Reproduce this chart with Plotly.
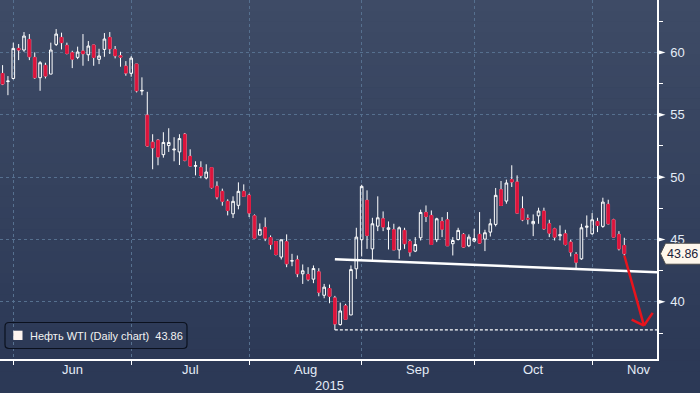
import plotly.graph_objects as go
import pandas as pd

# ---------------- data (WTI daily candles, 27 May - 9 Nov 2015) ----------------
open_ = [58.31, 57.66, 57.91, 60.32, 60.19, 61.04, 59.60, 57.97, 58.96, 58.26,
         60.64, 61.20, 60.56, 59.97, 59.60, 60.11, 59.81, 60.59, 59.44, 60.24,
         61.20, 60.24, 59.73, 58.90, 58.32, 59.06, 56.90, 54.97, 52.80, 52.96,
         51.80, 52.53, 52.18, 52.02, 53.44, 51.67, 50.87, 50.76, 49.93, 50.76,
         49.27, 48.86, 48.06, 47.06, 47.74, 48.86, 48.54, 46.90, 45.35, 45.97,
         45.16, 44.84, 43.59, 44.82, 43.27, 43.37, 42.25, 42.19, 41.82, 42.41,
         40.53, 41.07, 40.32, 38.18, 39.68, 38.95, 42.65, 44.98, 48.14, 44.25,
         46.07, 46.66, 45.81, 45.78, 44.17, 45.73, 44.84, 44.07, 45.14, 47.17,
         46.93, 44.98, 46.45, 46.58, 44.66, 45.00, 45.41, 44.50, 44.87, 45.41,
         45.03, 45.59, 46.21, 48.99, 48.08, 49.80, 49.61, 47.47, 46.70, 46.26,
         46.90, 47.28, 46.26, 45.86, 45.30, 45.46, 44.79, 43.80, 43.45, 45.98,
         45.46, 46.45, 46.05, 47.82, 46.58, 45.41, 44.52]
high = [58.98, 58.10, 60.78, 60.67, 61.63, 61.47, 60.00, 59.30, 59.17, 60.78,
        61.87, 61.58, 60.78, 60.13, 60.46, 61.47, 60.91, 60.59, 60.29, 61.55,
        61.63, 60.51, 60.05, 59.30, 59.70, 59.06, 58.00, 56.84, 53.44, 53.04,
        53.60, 53.92, 53.20, 53.44, 53.54, 52.23, 51.27, 51.27, 51.03, 50.76,
        49.66, 49.08, 48.22, 48.46, 49.58, 49.42, 48.67, 47.01, 46.29, 46.77,
        45.33, 44.84, 44.98, 45.41, 43.85, 43.72, 43.00, 42.78, 42.92, 42.70,
        41.44, 41.39, 40.48, 39.94, 39.84, 42.92, 45.94, 49.39, 48.94, 46.74,
        48.46, 47.25, 46.45, 46.26, 46.05, 45.94, 44.98, 45.19, 47.39, 47.73,
        47.33, 46.74, 46.79, 47.20, 45.19, 45.94, 45.51, 45.41, 45.86, 47.20,
        45.78, 46.66, 49.13, 49.69, 49.80, 50.95, 50.14, 48.46, 47.01, 47.01,
        47.55, 47.55, 46.58, 45.94, 46.13, 45.78, 44.98, 43.99, 46.26, 46.93,
        47.12, 46.74, 48.35, 48.19, 46.66, 45.67, 45.14]
low = [57.38, 56.57, 57.83, 59.38, 60.05, 59.38, 57.88, 56.92, 57.91, 58.26,
       60.51, 60.24, 59.84, 58.74, 59.46, 58.93, 59.30, 58.93, 59.06, 59.65,
       59.87, 59.52, 58.85, 58.13, 58.05, 56.79, 56.57, 52.45, 50.63, 50.95,
       51.56, 52.02, 51.27, 50.97, 51.27, 50.89, 50.14, 49.91, 49.82, 49.08,
       48.22, 47.71, 46.93, 46.72, 47.42, 48.41, 46.80, 45.11, 45.35, 44.87,
       44.20, 43.72, 43.40, 42.78, 42.86, 41.98, 41.44, 41.66, 41.50, 40.45,
       40.29, 39.89, 37.75, 38.10, 38.60, 38.95, 41.84, 43.64, 44.25, 43.32,
       45.67, 45.67, 44.20, 44.17, 43.45, 44.25, 43.64, 43.99, 44.92, 46.40,
       44.60, 44.79, 45.19, 44.50, 43.72, 44.92, 44.33, 44.39, 44.79, 44.66,
       44.07, 45.24, 46.05, 47.73, 47.87, 49.21, 47.12, 46.47, 46.21, 45.27,
       46.26, 45.78, 45.19, 44.92, 44.92, 44.52, 43.64, 42.70, 43.37, 45.19,
       45.38, 45.59, 45.94, 46.21, 45.14, 44.12, 43.72]
close = [57.46, 57.70, 60.32, 60.19, 61.31, 59.65, 57.97, 59.17, 58.10, 60.19,
         61.47, 60.78, 59.92, 59.46, 60.03, 59.89, 60.51, 59.60, 59.71, 61.07,
         60.29, 59.73, 59.62, 58.34, 59.54, 56.92, 56.95, 52.50, 52.34, 51.62,
         52.78, 52.78, 52.24, 53.09, 51.35, 50.89, 50.92, 50.14, 50.41, 49.16,
         48.41, 48.06, 47.33, 48.06, 48.86, 48.46, 47.12, 45.11, 45.81, 45.11,
         44.60, 43.80, 44.98, 43.05, 43.30, 42.25, 42.49, 41.82, 42.67, 40.77,
         41.18, 40.45, 38.23, 39.27, 38.60, 42.59, 45.19, 49.26, 45.33, 46.26,
         46.74, 46.00, 45.94, 44.17, 45.94, 44.66, 43.99, 44.60, 47.17, 46.85,
         44.60, 46.66, 45.83, 44.50, 44.92, 45.73, 44.39, 45.19, 45.08, 44.71,
         45.54, 46.26, 48.54, 47.73, 49.53, 49.61, 47.12, 46.58, 46.64, 46.45,
         47.28, 45.86, 45.51, 45.19, 45.38, 44.60, 43.99, 43.18, 45.94, 46.06,
         46.58, 46.13, 48.00, 46.26, 45.19, 44.25, 43.86]

holidays = ["2015-07-03", "2015-09-07"]
dates = [d for d in pd.bdate_range("2015-05-27", "2015-11-09")
         if d.strftime("%Y-%m-%d") not in holidays]
month_labels = ["Jun", "Jul", "Aug", "Sep", "Oct", "Nov"]
year_label = "2015"
y_ticks = [40, 45, 50, 55, 60]
y_minor = [37.5, 42.5, 47.5, 52.5, 57.5, 62.5]
series_name = "Нефть WTI (Daily chart)"
last_value = close[-1]

# ---------------- layout constants ----------------
W_FIG, H_FIG = 700, 393
ML, MR, MT, MB = 0, 43, 0, 34
PW, PH = W_FIG - ML - MR, H_FIG - MT - MB
X_RANGE = [-0.48, 122.1]
Y_RANGE = [35.42, 64.2]

RED = "#dc143c"
WHITE = "#ffffff"
GRID = "#56708f"
TXT = "#e4ecf7"
FONT = "Liberation Sans, Arial, sans-serif"


def pxx(p):
    return p / PW


def pxy(p):
    return 1 - p / PH


x = list(range(len(close)))
grid_idx = [i for i in range(len(dates) - 1) if dates[i + 1].month != dates[i].month]

fig = go.Figure()

fig.add_trace(go.Candlestick(
    x=x, open=open_, high=high, low=low, close=close,
    increasing=dict(line=dict(color=WHITE, width=1), fillcolor="rgba(0,0,0,0)"),
    decreasing=dict(line=dict(color=WHITE, width=1), fillcolor=RED),
    showlegend=False, hoverinfo="skip"))

dec = [i for i in x if close[i] < open_[i]]
fig.add_trace(go.Candlestick(
    x=dec, open=[open_[i] for i in dec], high=[open_[i] for i in dec],
    low=[close[i] for i in dec], close=[close[i] for i in dec],
    increasing=dict(line=dict(color=RED, width=1), fillcolor=RED),
    decreasing=dict(line=dict(color=RED, width=1), fillcolor=RED),
    showlegend=False, hoverinfo="skip"))

shapes = []
c0, c1 = (62, 75, 102), (44, 57, 86)
N = 36
for b in range(N):
    t0 = b / N * H_FIG
    t1 = (b + 1) / N * H_FIG
    f = min(1.0, ((t0 + t1) / 2) / PH)
    col = "rgb(%d,%d,%d)" % tuple(round(c0[j] + (c1[j] - c0[j]) * f) for j in range(3))
    shapes.append(dict(type="rect", xref="paper", yref="paper", x0=-0.02, x1=1.1,
                       y0=pxy(t1 + 0.5), y1=pxy(t0), fillcolor=col, line=dict(width=0),
                       layer="below"))

lo_i = low.index(min(low))
shapes.append(dict(type="line", xref="x", yref="y", x0=lo_i, y0=43.42, x1=X_RANGE[1], y1=42.38,
                   line=dict(color=WHITE, width=2.5)))
shapes.append(dict(type="line", xref="x", yref="y", x0=lo_i, y0=min(low), x1=X_RANGE[1], y1=min(low),
                   line=dict(color=WHITE, width=1.3, dash="3px,2px")))
tip = (119.67, 38.10)
for (ax0, ay0) in [(x[-1], low[-1]), (117.37, 38.58), (121.29, 39.12)]:
    shapes.append(dict(type="line", xref="x", yref="y", x0=ax0, y0=ay0, x1=tip[0], y1=tip[1],
                       line=dict(color="#e8141c", width=2.5)))

for t in y_ticks:
    shapes.append(dict(type="path", xref="paper", yref="y",
                       path="M 1,%f L %f,%f L 1,%f Z" % (t + 0.21, 1 + 8.5 / PW, t, t - 0.21),
                       fillcolor=WHITE, line=dict(width=0)))

yc = last_value
hh = 10.5 / (PH / (Y_RANGE[1] - Y_RANGE[0]))
shapes.append(dict(type="path", xref="paper", yref="y",
                   path="M %f,%f L %f,%f L %f,%f L %f,%f L %f,%f Z" % (
                       pxx(660.5), yc, pxx(665.5), yc + hh, pxx(705), yc + hh,
                       pxx(705), yc - hh, pxx(665.5), yc - hh),
                   fillcolor="#fef7ec", line=dict(color="#4a4a4a", width=1)))

bx0, bx1, by0, by1, r = 5, 187, 322.5, 348.5, 4
path = ("M {a},{b0} L {c},{b0} Q {x1},{b0} {x1},{d} L {x1},{e} Q {x1},{b1} {c},{b1} "
        "L {a},{b1} Q {x0},{b1} {x0},{e} L {x0},{d} Q {x0},{b0} {a},{b0} Z").format(
    a=pxx(bx0 + r), c=pxx(bx1 - r), x0=pxx(bx0), x1=pxx(bx1),
    b0=pxy(by0), b1=pxy(by1), d=pxy(by0 + r), e=pxy(by1 - r))
shapes.append(dict(type="path", xref="paper", yref="paper", path=path,
                   line=dict(color="#0b111e", width=1.2)))
shapes.append(dict(type="rect", xref="paper", yref="paper", x0=pxx(13.3), x1=pxx(22.5),
                   y0=pxy(340), y1=pxy(330.7), fillcolor="#fdf3ee", line=dict(width=0)))

annotations = []
for i, m in enumerate(month_labels):
    if i + 1 < len(grid_idx):
        annotations.append(dict(x=(grid_idx[i] + grid_idx[i + 1]) / 2, xref="x", y=pxy(369.5), yref="paper",
                                text=m, showarrow=False, xanchor="center", yanchor="middle",
                                font=dict(size=13, color=TXT, family=FONT)))
    else:
        annotations.append(dict(x=1, xref="paper", xshift=-4, y=pxy(369.5), yref="paper",
                                text=m, showarrow=False, xanchor="right", yanchor="middle",
                                font=dict(size=13, color=TXT, family=FONT)))
annotations.append(dict(x=pxx(329), xref="paper", y=pxy(385.5), yref="paper", text=year_label,
                        showarrow=False, xanchor="center", yanchor="middle",
                        font=dict(size=13, color=TXT, family=FONT)))
annotations.append(dict(x=pxx(28), xref="paper", y=pxy(335.5), yref="paper",
                        text=series_name + "\u00a0\u00a0" + "%.2f" % last_value,
                        showarrow=False, xanchor="left", yanchor="middle",
                        font=dict(size=11, color="#f2f2f2", family=FONT)))
annotations.append(dict(x=pxx(665), xref="paper", y=yc, yref="y", text="%.2f" % last_value,
                        showarrow=False, xanchor="left", yanchor="middle",
                        font=dict(size=12.5, color="#1b2238", family=FONT)))

fig.update_layout(
    width=W_FIG, height=H_FIG, autosize=False,
    margin=dict(l=ML, r=MR, t=MT, b=MB, pad=0),
    paper_bgcolor="rgb(44,57,86)", plot_bgcolor="rgba(0,0,0,0)",
    shapes=shapes, annotations=annotations, hovermode=False,
    xaxis=dict(range=X_RANGE, autorange=False, tickvals=grid_idx, showticklabels=False, ticks="outside",
               ticklen=4, tickcolor=WHITE, tickwidth=1, showgrid=True, gridcolor=GRID,
               griddash="3px,3px", gridwidth=1, showline=True, linecolor=WHITE, linewidth=1.5,
               zeroline=False, rangeslider=dict(visible=False), fixedrange=True),
    yaxis=dict(side="right", range=Y_RANGE, autorange=False, tickvals=y_ticks, showgrid=True, gridcolor=GRID,
               griddash="3px,3px", gridwidth=1, showline=True, linecolor=WHITE, linewidth=1.5,
               ticks="", ticklabelstandoff=9, zeroline=False, fixedrange=True,
               tickfont=dict(size=13, color=TXT, family=FONT),
               minor=dict(tickvals=y_minor, ticks="outside", ticklen=4, tickcolor=WHITE,
                          tickwidth=1, showgrid=False)),
)

fig.write_html("out.html", config={"displayModeBar": False, "responsive": False},
               post_script="document.body.style.margin='0';document.body.style.overflow='hidden';")
